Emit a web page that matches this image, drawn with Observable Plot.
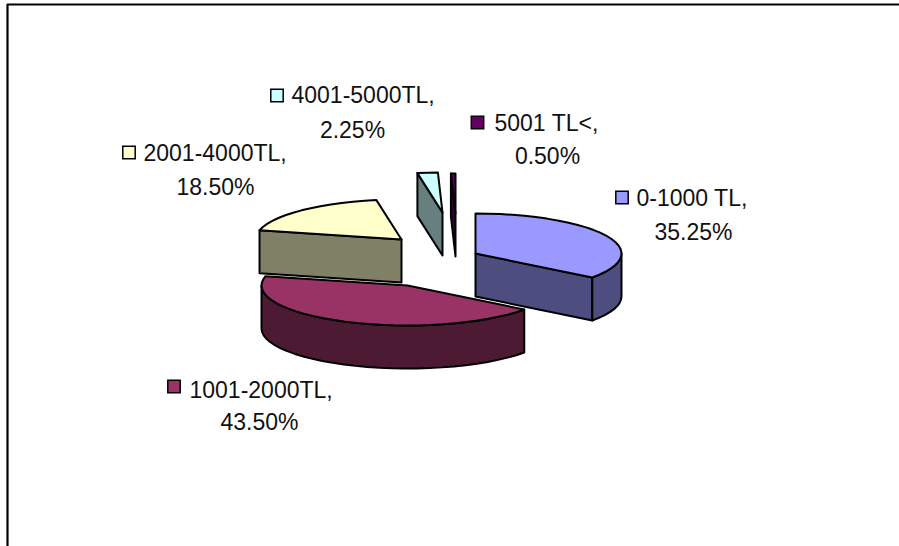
<!DOCTYPE html>
<html>
<head>
<meta charset="utf-8">
<script src="https://cdn.jsdelivr.net/npm/d3@7"></script>
<script src="https://cdn.jsdelivr.net/npm/@observablehq/plot@0.6"></script>
<style>
  html, body { margin: 0; padding: 0; background: #fff; }
  svg { display: block; }
</style>
</head>
<body>
<div id="chart"></div>
<script>
// Income bands and their shares, in percent
const categories = ["0-1000 TL", "1001-2000TL", "2001-4000TL", "4001-5000TL", "5001 TL<"];
const shares = [35.25, 43.5, 18.5, 2.25, 0.5];
const topColors = ["#9999FF", "#993366", "#FFFFCC", "#CCFFFF", "#660066"];
const wallColors = ["#4D4D80", "#4D1A33", "#808066", "#668080", "#330033"];

// Pie layout: ellipse radii, extrusion depth and the exploded centre of each wedge
const radiusX = 146, radiusY = 40, depth = 43;
const centres = [[475, 253], [407, 285], [401, 239], [442, 212], [455, 213]];
const keyPos = [[621.5, 197], [173.5, 386], [128.5, 152], [276.5, 95], [477, 122]];
const line1X = [636, 189, 143, 291, 494];
const line1Y = [198.5, 390, 153, 95, 123];
const line2X = [693, 259, 215, 352, 547];
const line2Y = [232, 422, 187, 130, 156];

// Turn shares into start and end angles, clockwise from twelve o'clock
let running = 0;
const wedges = shares.map((s, i) => {
  const a0 = running / 100 * 2 * Math.PI;
  running += s;
  const a1 = running / 100 * 2 * Math.PI;
  return {i, a0, a1, c: centres[i]};
});

const rim = (w, a, dz = 0) => ({
  x: w.c[0] + radiusX * Math.sin(a),
  y: w.c[1] - radiusY * Math.cos(a) + dz
});
const hub = (w, dz = 0) => ({x: w.c[0], y: w.c[1] + dz});
const arc = (w, from, to, dz = 0) => {
  const n = Math.max(1, Math.ceil(Math.abs(to - from) / (Math.PI / 36)));
  return d3.range(n + 1).map(k => rim(w, from + (to - from) * k / n, dz));
};
const closed = pts => [...pts, pts[0]];

// Polygons for one wedge, back to front: cut walls, outer wall, top face
function facesOf(w) {
  const faces = [];
  const wall = [];
  const right = Math.PI / 2, south = Math.PI, left = 3 * Math.PI / 2;
  // Cut wall running from the hub to the closing edge of the wedge, seen from the left
  if (w.a1 > south && w.a0 < 2 * Math.PI && w.a0 >= south) {
    wall.push([hub(w), rim(w, w.a0), rim(w, w.a0, depth), hub(w, depth)]);
  }
  // Cut wall at the opening edge, facing the viewer on the right-hand wedge
  if (w.a0 === 0) {
    wall.push([hub(w), rim(w, w.a1), rim(w, w.a1, depth), hub(w, depth)]);
  }
  // Curved outer wall over the part of the rim that faces front
  const from = Math.max(w.a0, right), to = Math.min(w.a1, left);
  if (to > from) {
    wall.push([...arc(w, from, to), ...arc(w, to, from, depth)]);
  }
  wall.forEach(p => faces.push({pts: closed(p), fill: wallColors[w.i]}));
  faces.push({pts: closed([hub(w), ...arc(w, w.a0, w.a1)]), fill: topColors[w.i]});
  return faces;
}

const drawOrder = [2, 3, 4, 0, 1];
const faces = drawOrder.flatMap(i => facesOf(wedges[i]));

const keys = categories.map((c, i) => ({x: keyPos[i][0], y: keyPos[i][1], fill: topColors[i]}));
const firstLines = categories.map((c, i) => ({x: line1X[i], y: line1Y[i], text: `${c},`}));
const secondLines = shares.map((s, i) => ({x: line2X[i], y: line2Y[i], text: `${s.toFixed(2)}%`}));

const font = {fontFamily: "'Liberation Sans', Arial, sans-serif", fontSize: 23, fill: "#111"};

const chart = Plot.plot({
  width: 899,
  height: 546,
  margin: 0,
  x: {domain: [0, 899], range: [0, 899], axis: null},
  y: {domain: [0, 546], range: [0, 546], axis: null},
  marks: [
    // Chart-area border: only the top and left edges fall inside the page
    Plot.ruleY([4], {x1: 7, x2: 899, stroke: "#000", strokeWidth: 2.2}),
    Plot.ruleX([7], {y1: 4, y2: 546, stroke: "#000", strokeWidth: 2.2}),
    ...faces.map(f => Plot.line(f.pts, {
      x: "x", y: "y", fill: f.fill, stroke: "#000", strokeWidth: 2,
      strokeLinejoin: "round", curve: "linear"
    })),
    Plot.dot(keys, {x: "x", y: "y", symbol: "square", r: 7, fill: d => d.fill, stroke: "#000", strokeWidth: 1.5}),
    Plot.text(firstLines, {x: "x", y: "y", text: "text", textAnchor: "start", ...font}),
    Plot.text(secondLines, {x: "x", y: "y", text: "text", textAnchor: "middle", ...font})
  ]
});
document.getElementById("chart").append(chart);
</script>
</body>
</html>
